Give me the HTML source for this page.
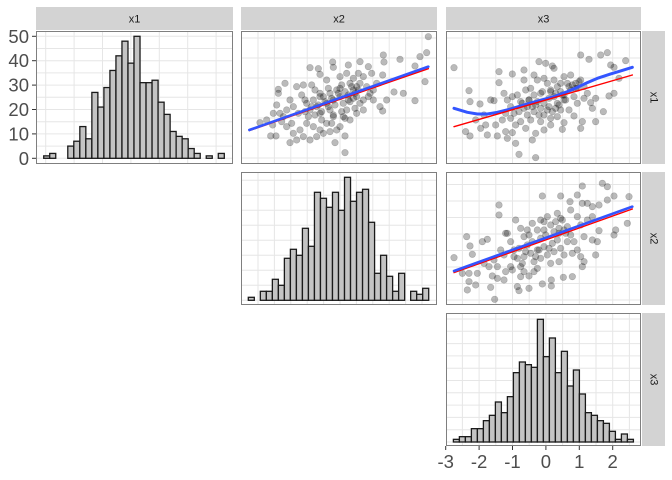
<!DOCTYPE html>
<html><head><meta charset="utf-8"><style>
html,body{margin:0;padding:0;background:#fff;}
svg{display:block;font-family:"Liberation Sans",sans-serif;}
</style></head><body>
<svg id="chart" width="672" height="480" viewBox="0 0 672 480" xmlns="http://www.w3.org/2000/svg"></svg>
<script>
// ---------- data ----------
const hist1Counts=[1,2,0,0,5,7,13,8,27,21,29,36,42,48,39,50,31,31,32,23,18,11,9,8,4,2,0,1,0,2];
const hist2Counts=[1,0,3,3,7,5,14,17,15,24,18,36,34,31,36,30,41,33,36,37,26,9,15,8,3,9,0,3,2,4];
const hist3Counts=[1,2,2,5,5,8,10,15,11,17,26,30,29,28,46,32,39,26,34,21,27,18,11,10,8,7,4,1,3,1];
const yTickLabels=["0","10","20","30","40","50"];
const yTickValues=[0,10,20,30,40,50];
const xTickLabels=["-3","-2","-1","0","1","2"];
const xTickValues=[-3,-2,-1,0,1,2];
const varNames=["x1","x2","x3"];

const p1x=[2.65,2.6,2.4,2.55,2.25,2.25,1.9,1.8,1.62,1.3,1.32,1.28,1.28,1.2,1.4,0.15,-0.15,0.15,-1.5,-2.08,-1.92,-2.4,-2.2,-2.02,-1.65,-1.85,-1.85,-0.9,-0.65,-0.6,-0.22,-0.2,0.25,0.6,0.85,0.95,
-1.5,-1.4,-1.25,-1.15,-1.0,-0.9,-0.8,-0.7,-0.6,-0.5,-0.4,-0.3,-0.2,-0.1,0,0.1,0.2,0.3,0.4,0.5,0.6,0.7,0.8,0.9,1.0,1.1,-1.0,-0.8,-0.6,-0.4,-1.2,-1.4,-1.1,-1.7,-1.6,-1.8,-1.3,-1.1,-0.85,-0.4,0,0.2,0.4,0.6,-0.5,-0.3,0,0.3,0.5,0.7,1.0,-0.7,-0.9,-1.3,-0.1,0.3,0.05,-0.2,-0.6,-0.75,-0.35,0.55,0.7,0.85,0.45,0.15,-0.25,-0.55,-0.95,-1.05,-1.45,-1.6,-1.75,-2.0,-1.9,
-0.65,-0.45,-0.25,-0.05,0.15,0.35,0.55,-0.75,-0.55,-0.35,-0.15,0.05,0.25,0.45,-0.85,-0.6,-0.3,0.0,0.25,0.5,-1.05,-0.2,0.1,0.4];
const p1y=[1.8,1.32,1.2,0.45,-0.12,0.92,0.1,1.12,0.14,1.25,1.04,0.65,-0.43,-0.3,-0.1,-1.18,-1.38,-1.68,-1.38,-1.18,-1.18,-0.78,-0.7,-0.85,0.4,0.22,0.1,0.87,0.84,0.67,1.04,0.88,0.95,1.05,0.9,0.7,
-0.1,-0.3,-0.5,0.05,-0.2,-0.4,-0.1,-0.3,-0.5,0,-0.2,-0.4,-0.6,0.2,0,-0.2,-0.4,0.4,0.2,0,-0.2,-0.4,0.3,0.1,-0.1,0.4,-0.8,-0.9,-1.0,-0.8,-1.0,-1.1,-1.2,-0.6,-0.4,-0.5,0.3,0.35,0.35,0.5,0.6,0.7,0.55,0.4,-1.1,-1.05,-0.9,-0.7,-0.5,-0.1,0.2,-1.2,-1.3,-1.3,-1.0,-0.15,0.35,-0.1,0.1,0.2,0.25,0.7,0.6,0,-0.35,-0.65,-0.8,-0.7,-0.6,-0.45,-0.8,-0.9,-0.75,-0.5,-0.25,
-0.25,-0.15,-0.05,0.1,0.15,0.3,0.2,-0.55,-0.45,-0.3,-0.25,-0.45,-0.1,0.1,-0.3,0.0,0.1,0.25,0.05,0.3,-0.1,-0.55,-0.6,-0.05];
const p1FitX=[-2.72,2.65];
const p1Blue=[-1.0,0.9];
const p1Red=[-1.02,0.84];

const p2x=[-2.7,-2.25,-2.22,-1.92,-2.35,-2.22,-1.7,-1.9,-1.75,-1.45,-1.4,-1.15,-0.95,-1.1,-0.85,-0.75,-0.25,-0.35,-0.25,-1.35,-1.35,-0.95,-0.6,-0.15,0.05,0.25,0.3,1.1,1.35,1.7,1.9,2.0,2.1,2.45,2.25,2.1,1.95,1.78,1.55,1.45,1.4,1.55,1.15,1.1,0.9,0.55,0.6,0.2,-1.6,-1.5,-1.8,-2.05,
-1.2,-1.1,-1.0,-0.9,-0.8,-0.7,-0.6,-0.5,-0.4,-0.3,-0.2,-0.1,0,0.1,0.2,0.3,0.4,0.5,0.6,0.7,0.8,0.9,1.0,1.1,1.2,1.3,-1.0,-0.7,-0.4,-0.1,0.2,0.4,-0.6,-0.3,-0.2,0,0.8,0.95,0.5,0.35,-0.35,-0.75,-0.95,-1.15,-1.25,-0.85,-0.55,0,1.2,0.6,0.15,-0.1,-0.45,-0.55,0.5,1.0,0.3,0.75,0.1,-0.15,
-0.65,-0.45,-0.25,-0.05,0.15,0.35,0.55,0.75,0.95,-0.5,-0.3,0.0,0.25,0.45,0.65,0.85,1.05,0.4,0.6,0.2];
const p2y=[0.87,0.18,-0.15,-0.22,-1.05,-1.18,-1.15,-0.95,-0.85,-0.85,-1.18,-1.05,-1.08,-1.25,-1.4,-1.73,-1.83,-1.3,-1.1,0.75,0.42,0.68,0.8,1.05,1.0,0.92,0.85,1.25,1.12,1.25,1.32,0.95,0.88,1.08,0.55,0.1,0.02,-0.45,-0.75,-0.35,-0.18,-0.05,-0.75,-0.95,-0.58,-0.98,-0.78,-0.85,-0.1,-0.12,-0.55,-0.7,
0.1,-0.1,-0.3,-0.5,0.05,-0.15,-0.35,-0.55,0.25,0.05,-0.15,-0.35,-0.55,0.4,0.2,0,-0.2,-0.4,0.6,0.4,0.2,0,-0.2,0.5,0.3,0.1,-0.65,-0.75,-0.7,-0.75,-0.65,-0.6,0.5,0.65,0.5,0.55,0.65,0.4,0.15,-0.35,-0.3,-0.45,0,-0.5,-0.7,-0.85,-0.95,-1.0,-0.05,-0.1,-0.05,0.1,-0.1,0.2,0.4,0.25,0.5,-0.4,-0.4,-0.55,
-0.2,-0.1,-0.25,0.15,-0.3,0.1,0.05,0.3,0.25,-0.3,-0.45,-0.2,-0.45,-0.25,-0.1,0.35,0.45,0.3,0.05,0.15];
const p2FitX=[-2.7,2.65];
const p2Red=[-0.9,0.65];
const p2LoessX=[-2.7,-2.3,-2.0,-1.7,-1.4,-1.0,-0.5,0.0,0.3,0.7,1.0,1.3,1.6,2.0,2.3,2.65];
const p2LoessY=[-0.35,-0.47,-0.52,-0.52,-0.47,-0.37,-0.22,-0.08,0,0.15,0.28,0.42,0.55,0.68,0.77,0.88];

const p3x=[-2.7,-2.32,-2.22,-2.15,-2.45,-2.25,-2.25,-2.3,-2.05,-2.0,-1.85,-1.7,-1.6,-1.48,-1.55,-1.4,-1.35,-1.35,-1.2,-1.15,-0.8,-0.75,-0.45,-0.05,-0.05,0.22,0.22,0.5,0.58,0.78,1.0,1.15,1.75,1.9,2.1,2.55,2.5,2.15,2.1,1.65,1.45,1.6,1.55,1.15,1.2,0.85,0.45,1.15,1.3,1.45,1.65,1.9,
-1.8,-1.65,-1.5,-1.3,-1.2,-1.1,-1.0,-0.9,-0.8,-0.7,-0.6,-0.85,-0.7,-0.6,-0.5,-0.4,-0.3,-0.2,-0.35,-0.2,-0.1,0,0.1,0.2,-0.1,0.1,0.2,0.3,0.4,0.5,0.6,0.4,0.55,0.7,0.8,0.9,1.0,0.8,1.0,1.1,1.2,0.7,0.3,-0.2,-0.6,-1.0,-1.4,-0.7,-0.45,-0.3,-0.95,-1.15,-0.5,0,0.45,0.85,1.1,1.3,1.45,
-0.75,-0.55,-0.35,-0.15,0.05,0.25,0.45,0.65,-0.9,-0.45,-0.25,0.0,0.35,0.6,-0.65,-0.1,0.15,0.5];
const p3y=[-0.63,0,-0.28,-0.53,-1.1,-1.1,-1.35,-1.6,-1.45,-1.1,-0.15,-0.08,-1.52,-1.88,-1.18,-1.25,0.95,0.65,-1.3,-1.05,-1.5,-1.62,-1.55,1.22,-1.42,-1.48,-1.3,1.22,-1.22,1.05,1.25,1.52,1.6,1.5,1.22,1.2,0.4,0.2,0.05,0.18,-0.1,-0.15,-0.55,-0.9,-0.75,-1.2,-0.75,1.0,1.0,0.9,0.95,1.1,
-0.8,-0.9,-0.7,-0.4,-0.55,0.1,-0.15,-0.4,-0.65,-0.9,-1.05,0.5,0.25,0,-0.25,-0.5,-0.75,-0.95,0.4,0.2,-0.05,-0.3,-0.55,-0.8,0.5,0.6,0.35,0.15,-0.1,-0.35,-0.55,0.7,0.5,0.3,0.05,-0.15,-0.4,0.8,0.6,0.35,0,-0.15,-0.45,-0.4,-0.6,-0.9,-0.9,-1.2,-1.18,-1.05,-1.0,0.1,0.2,0.2,0.1,-0.5,-0.6,0.5,0.6,
-0.35,-0.45,-0.15,-0.4,0.05,-0.2,0.25,0.1,-0.6,0.05,-0.6,0.45,0.45,0.2,-0.8,-0.65,-0.35,0.55];
const p3FitX=[-2.7,2.65];
const p3Blue=[-1.03,0.9];
const p3Red=[-1.08,0.83];

// ---------- helpers ----------
const NS="http://www.w3.org/2000/svg";
const svg=document.getElementById('chart');
function el(tag,attrs,parent){const e=document.createElementNS(NS,tag);for(const k in attrs)e.setAttribute(k,attrs[k]);(parent||svg).appendChild(e);return e;}
function lin(d0,d1,r0,r1){return v=>r0+(v-d0)*(r1-r0)/(d1-d0);}

const cols=[[36,233],[241,437],[446,641]];
const rows=[[31,164],[172,305],[313,446]];

function panel(ci,ri,name,vStep,hStep,vStart,hStart){
  const [x0,x1]=cols[ci],[y0,y1]=rows[ri];
  const g=el('g',{});
  
  
  el('rect',{x:x0,y:y0,width:x1-x0,height:y1-y0,fill:'#fff'},g);
  for(let x=vStart;x<x1;x+=vStep){if(x>x0)el('line',{x1:x,x2:x,y1:y0,y2:y1,stroke:'#e6e6e6','stroke-width':1},g);}
  for(let y=hStart;y>y0;y-=hStep){if(y<y1)el('line',{x1:x0,x2:x1,y1:y,y2:y,stroke:'#e6e6e6','stroke-width':1},g);}
  return g;
}
function border(ci,ri){const [x0,x1]=cols[ci],[y0,y1]=rows[ri];
  const r=el('rect',{x:x0+0.5,y:y0+0.5,width:x1-x0-1,height:y1-y0-1,fill:'none',stroke:'#7f7f7f','stroke-width':1});
  
  }

function hist(g,counts,bx0,bx1,base,unit,name){
  const w=(bx1-bx0)/counts.length;
  const y=lin(0,1,base,base-unit);
  counts.forEach((c,i)=>{
    const r=el('rect',{x:bx0+i*w,y:y(c),width:w,height:base-y(c),fill:'#c4c4c4',stroke:'#1a1a1a','stroke-width':1.3},g);
    
    
  });
}
function scatter(g,xs,ys,ox,oy,name){
  const sx=lin(-3,3,ox,ox+200), sy=lin(2,-2,oy,oy+133.3);
  xs.forEach((v,i)=>{
    const c=el('circle',{cx:sx(v),cy:sy(ys[i]),r:3.3,fill:'rgba(0,0,0,0.27)',stroke:'rgba(0,0,0,0.2)','stroke-width':0.6},g);
    
    
  });
  return [sx,sy];
}
function fitLine(g,sx,sy,xs,ys,color,w,name){
  const p=el('polyline',{points:xs.map((v,i)=>sx(v)+','+sy(ys[i])).join(' '),fill:'none',stroke:color,'stroke-width':w,'stroke-linecap':'round','stroke-linejoin':'round'},g);
  
  
}

const g11=panel(0,0,'hist-x1-panel',28.4,12.2,45.7,158.3);
hist(g11,hist1Counts,43.7,224.3,158.3,2.44,'hist-x1');
border(0,0);
const g12=panel(1,0,'scatter-x2-x1-panel',16.4,20,258,158);
let [sx,sy]=scatter(g12,p1x,p1y,240,30,'scatter-x2-x1');
fitLine(g12,sx,sy,p1FitX,p1Red,'#ff0000',1.4,'linear-fit-x2-x1');
fitLine(g12,sx,sy,p1FitX,p1Blue,'#3355ff',2.6,'loess-fit-x2-x1');
border(1,0);
const g13=panel(2,0,'scatter-x3-x1-panel',16.7,20,462.4,158);
[sx,sy]=scatter(g13,p2x,p2y,444,30,'scatter-x3-x1');
fitLine(g13,sx,sy,p2LoessX,p2LoessY,'#3355ff',3,'loess-fit-x3-x1');
fitLine(g13,sx,sy,p2FitX,p2Red,'#ff0000',1.4,'linear-fit-x3-x1');
border(2,0);
const g22=panel(1,1,'hist-x2-panel',16.4,15,258,300.3);
hist(g22,hist2Counts,248.3,428.7,300.3,3.0,'hist-x2');
border(1,1);
const g23=panel(2,1,'scatter-x3-x2-panel',16.7,16.5,462.4,300);
[sx,sy]=scatter(g23,p3x,p3y,444,170,'scatter-x3-x2');
fitLine(g23,sx,sy,p3FitX,p3Red,'#ff0000',1.4,'linear-fit-x3-x2');
fitLine(g23,sx,sy,p3FitX,p3Blue,'#3355ff',2.6,'loess-fit-x3-x2');
border(2,1);
const g33=panel(2,2,'hist-x3-panel',16.7,12.3,462.4,442);
const x3s=lin(-3,2,445.7,612.7);
hist(g33,hist3Counts,x3s(-2.77),x3s(2.62),442,2.667,'hist-x3');
border(2,2);

varNames.forEach((n,i)=>{
  const [x0,x1]=cols[i];
  const r=el('rect',{x:x0,y:7,width:x1-x0,height:23,fill:'#d3d3d3'});
  
  
  const t=el('text',{x:(x0+x1)/2,y:22.5,'text-anchor':'middle','font-size':11,fill:'#1a1a1a'});
  t.textContent=n;
  
  
  const [y0,y1]=rows[i];
  const r2=el('rect',{x:642,y:y0,width:23,height:y1-y0,fill:'#d3d3d3'});
  
  
  const cy=(y0+y1)/2;
  const t2=el('text',{x:653.5,y:cy,'text-anchor':'middle','font-size':11,fill:'#1a1a1a',transform:'rotate(90 653.5 '+cy+')','dominant-baseline':'central'});
  t2.textContent=n;
  
  
});

const ys=lin(0,50,158.3,36.3);
yTickValues.forEach((v,i)=>{
  const y=ys(v);
  el('line',{x1:32,x2:36,y1:y,y2:y,stroke:'#333','stroke-width':1});
  const t=el('text',{x:29,y:y+6.5,'text-anchor':'end','font-size':18.5,fill:'#4d4d4d'});
  t.textContent=yTickLabels[i];
  
  
});
xTickValues.forEach((v,i)=>{
  const x=x3s(v);
  el('line',{x1:x,x2:x,y1:446,y2:450,stroke:'#333','stroke-width':1});
  const t=el('text',{x:x,y:468,'text-anchor':'middle','font-size':18.5,fill:'#4d4d4d'});
  t.textContent=xTickLabels[i];
  
  
});
</script>
</body></html>
